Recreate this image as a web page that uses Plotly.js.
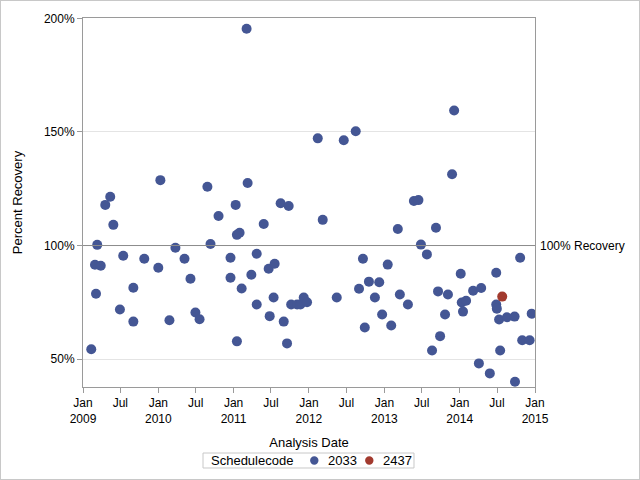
<!DOCTYPE html>
<html>
<head>
<meta charset="utf-8">
<script src="https://cdn.plot.ly/plotly-3.0.1.min.js"></script>
<style>
html,body{margin:0;padding:0;background:#fff;}
#wrap{width:640px;height:480px;box-sizing:border-box;border:1px solid #c8c8c8;}
#chart{width:638px;height:478px;}
</style>
</head>
<body>
<div id="wrap"><div id="chart"></div></div>
<script>
// Schedulecode 2033
const dates2033 = [
"2009-02-10","2009-02-28","2009-03-28","2009-03-11","2009-03-05","2009-04-19","2009-05-13","2009-05-28","2009-06-29","2009-07-15",
"2009-09-02","2009-09-02","2009-10-25","2010-01-01","2010-01-11","2010-02-24","2010-03-25","2010-05-08","2010-06-06","2010-06-30",
"2010-07-20","2010-08-27","2010-09-11","2010-10-20","2010-12-17","2010-12-17","2011-01-11","2011-01-17","2011-01-17","2011-01-30",
"2011-02-09","2011-03-05","2011-03-10","2011-03-28","2011-04-23","2011-04-23","2011-05-27","2011-06-20","2011-06-25","2011-07-14",
"2011-07-19","2011-08-17","2011-09-01","2011-09-17","2011-09-25","2011-10-07","2011-11-05","2011-11-21","2011-12-07","2011-12-23",
"2012-02-13","2012-03-08","2012-05-15","2012-06-18","2012-08-15","2012-08-31","2012-09-19","2012-09-28","2012-10-18","2012-11-16",
"2012-12-07","2012-12-21","2013-01-17","2013-02-03","2013-03-07","2013-03-17","2013-04-25","2013-05-24","2013-06-15","2013-06-27",
"2013-07-26","2013-08-20","2013-09-08","2013-09-18","2013-09-28","2013-10-22","2013-11-05","2013-11-25","2013-12-05","2014-01-06",
"2014-01-11","2014-01-17","2014-02-01","2014-03-07","2014-04-04","2014-04-15","2014-05-27","2014-06-27","2014-06-27","2014-06-30",
"2014-07-11","2014-07-16","2014-08-18","2014-09-24","2014-09-26","2014-10-21","2014-10-31","2014-12-06","2014-12-16"
];
const recovery2033 = [
54.3,91.5,91.1,100.3,78.8,117.9,121.5,109.1,71.8,95.5,
81.4,66.5,94.2,90.2,128.8,67.1,99.0,94.2,85.4,70.5,
67.5,125.9,100.7,113.0,94.6,85.8,117.9,57.8,104.7,105.6,
81.1,195.5,127.5,87.1,96.4,74.0,109.5,89.8,68.9,77.1,
92.0,118.6,66.5,56.9,117.4,74.0,74.0,74.0,77.1,75.0,
147.2,111.3,77.1,146.4,150.3,81.0,94.2,63.9,84.1,77.1,
83.8,69.6,91.6,64.8,107.3,78.4,74.0,119.6,120.0,100.4,
96.1,53.8,107.8,79.8,60.1,69.6,78.4,131.4,159.5,87.6,
74.9,70.9,75.7,80.1,48.1,81.3,43.7,88.0,74.0,72.2,
67.4,53.8,68.4,68.7,40.0,94.6,58.3,58.3,70.0
];
// Schedulecode 2437
const dates2437 = ["2014-07-26"];
const recovery2437 = [77.5];

const seriesNames = ["2033", "2437"];
const seriesColors = ["#445694", "#A23A2E"];
const legendTitle = "Schedulecode";

const tickDates = ["2009-01-01","2009-07-01","2010-01-01","2010-07-01","2011-01-01","2011-07-01","2012-01-01","2012-07-01","2013-01-01","2013-07-01","2014-01-01","2014-07-01","2015-01-01"];
const tickText = ["Jan<br>2009","Jul","Jan<br>2010","Jul","Jan<br>2011","Jul","Jan<br>2012","Jul","Jan<br>2013","Jul","Jan<br>2014","Jul","Jan<br>2015"];
const yTicks = [50,100,150,200];
const yTickText = ["50%","100%","150%","200%"];
const refValue = 100;
const refLabel = "100% Recovery";

const FONT = "Liberation Sans, Arial, sans-serif";
const axisColor = "#9a9a9a";

const traces = [
  {x: dates2033, y: recovery2033, name: seriesNames[0], type: "scatter", mode: "markers",
   marker: {color: seriesColors[0], size: 10}},
  {x: dates2437, y: recovery2437, name: seriesNames[1], type: "scatter", mode: "markers",
   marker: {color: seriesColors[1], size: 10}}
];

// Legend (drawn as a compact boxed row below the x-axis title)
const legY = -0.199;
const legMarkX = [0.5117, 0.6334];
const legTextX = [0.5376, 0.6593];
const legendShapes = [
  {type: "rect", xref: "paper", yref: "paper", x0: 0.2655, x1: 0.7323, y0: -0.2195, y1: -0.1789,
   line: {color: "#c8c8c8", width: 1}, fillcolor: "rgba(0,0,0,0)"}
];
const legendAnn = [
  {xref: "paper", yref: "paper", x: 0.2777, y: legY, xanchor: "left", yanchor: "middle",
   text: legendTitle, showarrow: false, font: {family: FONT, size: 13, color: "#000"}}
];
seriesNames.forEach((n, i) => {
  legendShapes.push({type: "circle", xref: "paper", yref: "paper",
    xsizemode: "pixel", ysizemode: "pixel", xanchor: legMarkX[i], yanchor: legY,
    x0: -4.2, x1: 4.2, y0: -4.2, y1: 4.2,
    fillcolor: seriesColors[i], line: {width: 0}});
  legendAnn.push({xref: "paper", yref: "paper", x: legTextX[i], y: legY, xanchor: "left", yanchor: "middle",
    text: n, showarrow: false, font: {family: FONT, size: 13, color: "#000"}});
});

const layout = {
  width: 638, height: 478,
  margin: {l: 82, r: 104, t: 17, b: 92},
  paper_bgcolor: "#fff", plot_bgcolor: "#fff",
  font: {family: FONT, size: 12, color: "#000"},
  showlegend: false,
  xaxis: {
    type: "date",
    range: ["2009-01-01", "2015-01-01"],
    tickmode: "array", tickvals: tickDates, ticktext: tickText,
    ticks: "outside", ticklen: 5, tickcolor: axisColor,
    showline: true, linecolor: axisColor, linewidth: 1, mirror: true,
    showgrid: false, zeroline: false,
    tickfont: {family: FONT, size: 12},
    title: {text: "Analysis Date", font: {family: FONT, size: 13}, standoff: 12}
  },
  yaxis: {
    range: [37.7, 200.2],
    tickmode: "array", tickvals: yTicks, ticktext: yTickText,
    ticks: "outside", ticklen: 5, tickcolor: axisColor,
    showline: true, linecolor: axisColor, linewidth: 1, mirror: true,
    showgrid: true, gridcolor: "#e4e4e4", zeroline: false,
    tickfont: {family: FONT, size: 12},
    title: {text: "Percent Recovery", font: {family: FONT, size: 13}, standoff: 18}
  },
  shapes: [
    {type: "line", xref: "paper", x0: 0, x1: 1, yref: "y", y0: refValue, y1: refValue,
     line: {color: "#8c8c8c", width: 1}}
  ].concat(legendShapes),
  annotations: [
    {xref: "paper", x: 1, xanchor: "left", xshift: 3, yref: "y", y: refValue, yanchor: "middle",
     text: refLabel, showarrow: false, font: {family: FONT, size: 12, color: "#000"}}
  ].concat(legendAnn)
};

Plotly.newPlot("chart", traces, layout, {displayModeBar: false, staticPlot: true});
</script>
</body>
</html>
